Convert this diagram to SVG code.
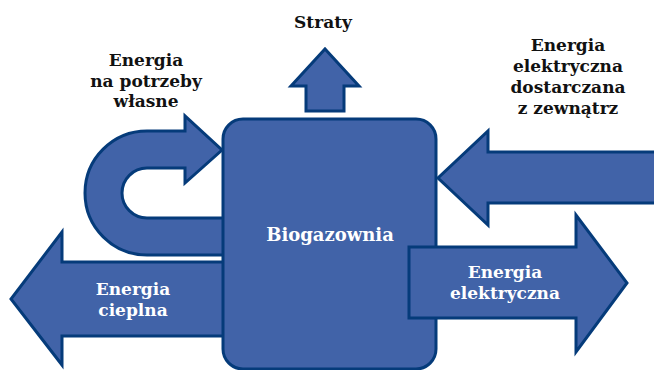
<svg xmlns="http://www.w3.org/2000/svg" width="654" height="370" viewBox="0 0 654 370">
<style>
.shape{fill:#4163a8;stroke:#053b7a;stroke-width:3;stroke-linejoin:miter}
.lbl{font-family:"DejaVu Serif","Liberation Serif",serif;font-weight:bold;font-size:17px;text-anchor:middle;fill:#111}
.wl{font-family:"DejaVu Serif","Liberation Serif",serif;font-weight:bold;font-size:17px;text-anchor:middle;fill:#fff}
</style>
<rect width="654" height="370" fill="#fff"/>
<g id="connectors">
<path id="own-use" class="shape" d="M185,131 L147,131 A62,62 0 0 0 147,255 L230,255 L230,218 L147,218 A25,25 0 0 1 147,168 L185,168 L185,183 L222,150 L185,116 Z"/>
<path id="heat" class="shape" d="M230,262 L62,262 L62,232 L11,299 L62,365 L62,336 L230,336 Z"/>
<path id="ext-elec" class="shape" d="M660,152 L488,152 L488,131 L438,178 L488,225 L488,203 L660,203 Z"/>
<path id="losses" class="shape" d="M306,111 L306,86 L291,86 L325,49 L359,86 L344,86 L344,111 Z"/>
</g>
<g id="biogazownia">
<rect class="shape" x="223" y="119" width="213" height="250" rx="20" ry="20"/>
<text class="wl" x="330" y="241" style="font-size:18px">Biogazownia</text>
</g>
<g id="elec-out">
<path class="shape" d="M409,247 L576,247 L576,215 L627,283 L576,352 L576,318 L409,318 Z"/>
<text class="wl" x="505" y="278">Energia</text>
<text class="wl" x="505" y="299">elektryczna</text>
</g>
<g id="heat-label">
<text class="wl" x="133" y="295">Energia</text>
<text class="wl" x="133" y="316">cieplna</text>
</g>
<g id="losses-label">
<text class="lbl" x="323" y="28">Straty</text>
</g>
<g id="own-use-label">
<text class="lbl" x="146" y="66">Energia</text>
<text class="lbl" x="146" y="87">na potrzeby</text>
<text class="lbl" x="146" y="107">własne</text>
</g>
<g id="ext-elec-label">
<text class="lbl" x="568" y="51">Energia</text>
<text class="lbl" x="568" y="72">elektryczna</text>
<text class="lbl" x="568" y="93">dostarczana</text>
<text class="lbl" x="568" y="114">z zewnątrz</text>
</g>
</svg>
